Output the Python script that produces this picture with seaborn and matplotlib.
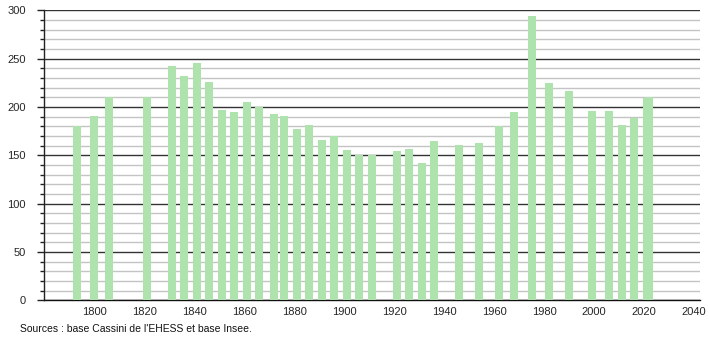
import matplotlib
matplotlib.use("Agg")
import matplotlib.pyplot as plt
from matplotlib.ticker import MultipleLocator
import seaborn as sns
import pandas as pd

years = [1793, 1800, 1806, 1821, 1831, 1836, 1841, 1846, 1851, 1856, 1861, 1866,
         1872, 1876, 1881, 1886, 1891, 1896, 1901, 1906, 1911, 1921, 1926, 1931,
         1936, 1946, 1954, 1962, 1968, 1975, 1982, 1990, 1999, 2006, 2011, 2016,
         2021, 2022]
population = [180, 191, 210, 210, 242, 232, 245, 226, 197, 195, 205, 200,
              193, 191, 177, 181, 166, 170, 156, 150, 150, 154, 157, 142,
              165, 161, 163, 180, 195, 294, 225, 217, 196, 196, 181, 189,
              209, 210]
x_ticks = [1800, 1820, 1840, 1860, 1880, 1900, 1920, 1940, 1960, 1980, 2000, 2020, 2040]
source_text = "Sources : base Cassini de l'EHESS et base Insee."

df = pd.DataFrame({"year": years, "population": population})

sns.set_style("white")
plt.rcParams["font.family"] = ["Liberation Sans", "DejaVu Sans"]

fig = plt.figure(figsize=(7.1, 3.4), dpi=100)
ax = fig.add_axes([44 / 710, 1 - 300.3 / 340, 656 / 710, 290 / 340])

sns.barplot(data=df, x="year", y="population", native_scale=True,
            width=3.2, color="#aee3ae", saturation=1, ax=ax, zorder=3,
            linewidth=0, errorbar=None)

ax.set_xlim(1779.9, 2042.4)
ax.set_ylim(0, 300)
ax.set_xticks(x_ticks)
ax.set_xticklabels([str(t) for t in x_ticks])
ax.yaxis.set_major_locator(MultipleLocator(50))
ax.yaxis.set_minor_locator(MultipleLocator(10))

ax.grid(which="major", axis="y", color="#333333", linewidth=1.0, zorder=1)
ax.grid(which="minor", axis="y", color="#c4c4c4", linewidth=1.0, zorder=0)
ax.set_axisbelow(True)

for s in ["top", "right"]:
    ax.spines[s].set_visible(False)
ax.spines["left"].set_color("#222222")
ax.spines["bottom"].set_color("#111111")
ax.spines["left"].set_linewidth(1.0)
ax.spines["bottom"].set_linewidth(1.0)

ax.tick_params(axis="y", which="major", length=5, width=1, color="#222222",
               labelsize=8, pad=8, left=True)
ax.tick_params(axis="y", which="minor", length=3, width=1, color="#222222", left=True)
ax.tick_params(axis="x", which="both", length=0, labelsize=8, pad=5)
ax.set_xlabel("")
ax.set_ylabel("")

fig.text(20 / 710, 1 - 329 / 340, source_text, fontsize=7.5, ha="left", va="center",
         color="#111111")

fig.savefig("out.png", dpi=100)
